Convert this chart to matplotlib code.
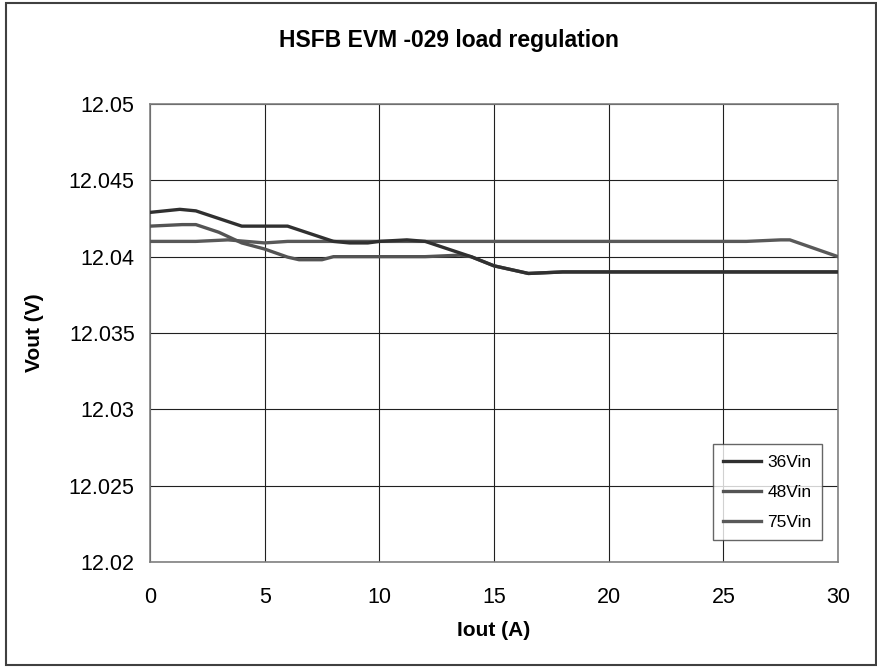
import matplotlib.pyplot as plt
from matplotlib.patches import Rectangle

# values (Iout in A, Vout in V)
iout_36 = [0, 1.3, 2, 3, 4, 6, 7, 8, 8.7, 9.5, 10, 11.2, 12, 13, 14, 15, 16.5, 18, 30]
vout_36 = [12.0429, 12.0431, 12.0430, 12.0425, 12.0420, 12.0420, 12.0415, 12.0410, 12.0409,
           12.0409, 12.0410, 12.0411, 12.0410, 12.0405, 12.0400, 12.0394, 12.0389, 12.0390, 12.0390]

iout_48 = [0, 1.4, 2, 3, 4, 5, 6, 6.5, 7.5, 8, 12, 13.5, 14, 15, 16.5, 18, 30]
vout_48 = [12.0420, 12.0421, 12.0421, 12.0416, 12.0409, 12.0405, 12.03997, 12.0398, 12.0398,
           12.0400, 12.0400, 12.0401, 12.0400, 12.0394, 12.0389, 12.0390, 12.0390]

iout_75 = [0, 2, 3.4, 5, 6, 26, 27.5, 27.9, 30]
vout_75 = [12.0410, 12.0410, 12.0411, 12.0409, 12.0410, 12.0410, 12.0411, 12.0411, 12.0400]

x_ticks = [0, 5, 10, 15, 20, 25, 30]
y_ticks = [12.02, 12.025, 12.03, 12.035, 12.04, 12.045, 12.05]
y_labels = ['12.02', '12.025', '12.03', '12.035', '12.04', '12.045', '12.05']

plt.rcParams['font.family'] = ['Liberation Sans', 'DejaVu Sans']

fig = plt.figure(figsize=(8.78, 6.67), dpi=100)
ax = fig.add_axes([150 / 878, 1 - 562 / 667, 688 / 878, 458 / 667])

# outer chart border
fig.patches.append(Rectangle((6 / 878, 2 / 667), 870 / 878, 662 / 667, transform=fig.transFigure,
                             fill=False, edgecolor='#404040', linewidth=1.5))

ax.plot(iout_75, vout_75, color='#595959', lw=2.4, label='75Vin', zorder=3)
ax.plot(iout_48, vout_48, color='#545454', lw=2.4, label='48Vin', zorder=4)
ax.plot(iout_36, vout_36, color='#303030', lw=2.4, label='36Vin', zorder=5)

ax.set_xlim(0, 30)
ax.set_ylim(12.02, 12.05)
ax.set_xticks(x_ticks)
ax.set_yticks(y_ticks)
ax.set_yticklabels(y_labels)
ax.tick_params(length=0, labelsize=15.5)
ax.tick_params(axis='x', pad=18)
ax.tick_params(axis='y', pad=11)
ax.grid(True, color='#202020', linewidth=0.8)
ax.set_axisbelow(True)
for s in ax.spines.values():
    s.set_color('#808080')
    s.set_linewidth(1.2)

ax.set_xlabel('Iout (A)', fontsize=15, fontweight='bold', labelpad=9)
ax.set_ylabel('Vout (V)', fontsize=15, fontweight='bold', labelpad=18)
fig.text(449 / 878, 1 - 40 / 667, 'HSFB EVM -029 load regulation', ha='center', va='center',
         fontsize=16.5, fontweight='bold')

h, l = ax.get_legend_handles_labels()
leg = ax.legend(h[::-1], l[::-1], loc='lower right', bbox_to_anchor=(0.977, 0.048), fontsize=12.5,
                handlelength=2.2, frameon=True, fancybox=False, borderpad=0.6, labelspacing=0.85,
                handletextpad=0.35, borderaxespad=0)
leg.get_frame().set_edgecolor('#404040')
leg.get_frame().set_linewidth(1.0)

fig.savefig('out.png', dpi=100)
